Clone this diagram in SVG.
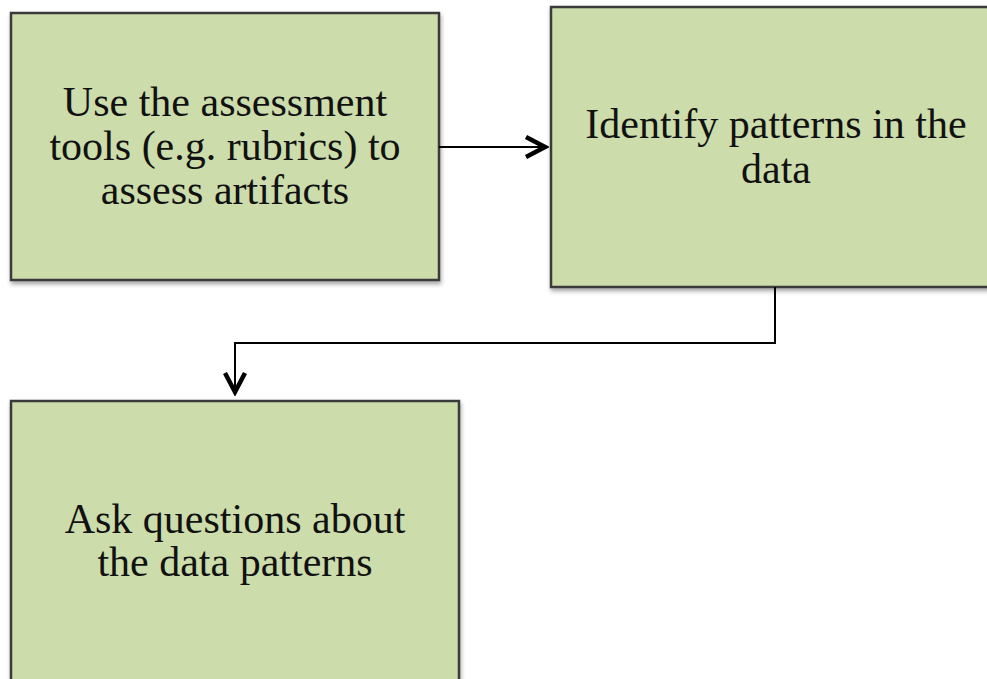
<svg xmlns="http://www.w3.org/2000/svg" width="987" height="679" viewBox="0 0 987 679">
  <style>
    .box { fill: #cddcab; stroke: #3a3a3a; stroke-width: 2.5; filter: url(#shadow); }
    .label { font-family: "Liberation Serif", "DejaVu Serif", serif; font-size: 42px; fill: #111; text-anchor: middle; }
    .wire { fill: none; stroke: #000; stroke-width: 2; }
  </style>
  <defs>
    <filter id="shadow" x="-5%" y="-5%" width="115%" height="115%">
      <feDropShadow dx="1" dy="3" stdDeviation="2" flood-color="#000" flood-opacity="0.35"/>
    </filter>
    <marker id="vhead" viewBox="0 0 26 26" refX="23" refY="13" markerWidth="26" markerHeight="26" markerUnits="userSpaceOnUse" orient="auto">
      <path d="M3,3 L22,13 L3,23" fill="none" stroke="#000" stroke-width="4.5" stroke-linejoin="miter"/>
    </marker>
  </defs>

  <g id="node-assess">
    <rect class="box" x="11" y="13" width="428" height="267"/>
    <text class="label" x="225" y="116">Use the assessment</text>
    <text class="label" x="225" y="160">tools (e.g. rubrics) to</text>
    <text class="label" x="225" y="204">assess artifacts</text>
  </g>

  <g id="node-identify">
    <rect class="box" x="551" y="7" width="450" height="280"/>
    <text class="label" x="776" y="138">Identify patterns in the</text>
    <text class="label" x="776" y="183">data</text>
  </g>

  <g id="node-ask">
    <rect class="box" x="11" y="401" width="448" height="300"/>
    <text class="label" x="235" y="533">Ask questions about</text>
    <text class="label" x="235" y="576">the data patterns</text>
  </g>

  <g id="connectors">
    <path class="wire" d="M439,147 L546,147" marker-end="url(#vhead)"/>
    <path class="wire" d="M775,287 L775,343 L235,343 L235,393" marker-end="url(#vhead)"/>
  </g>
</svg>
